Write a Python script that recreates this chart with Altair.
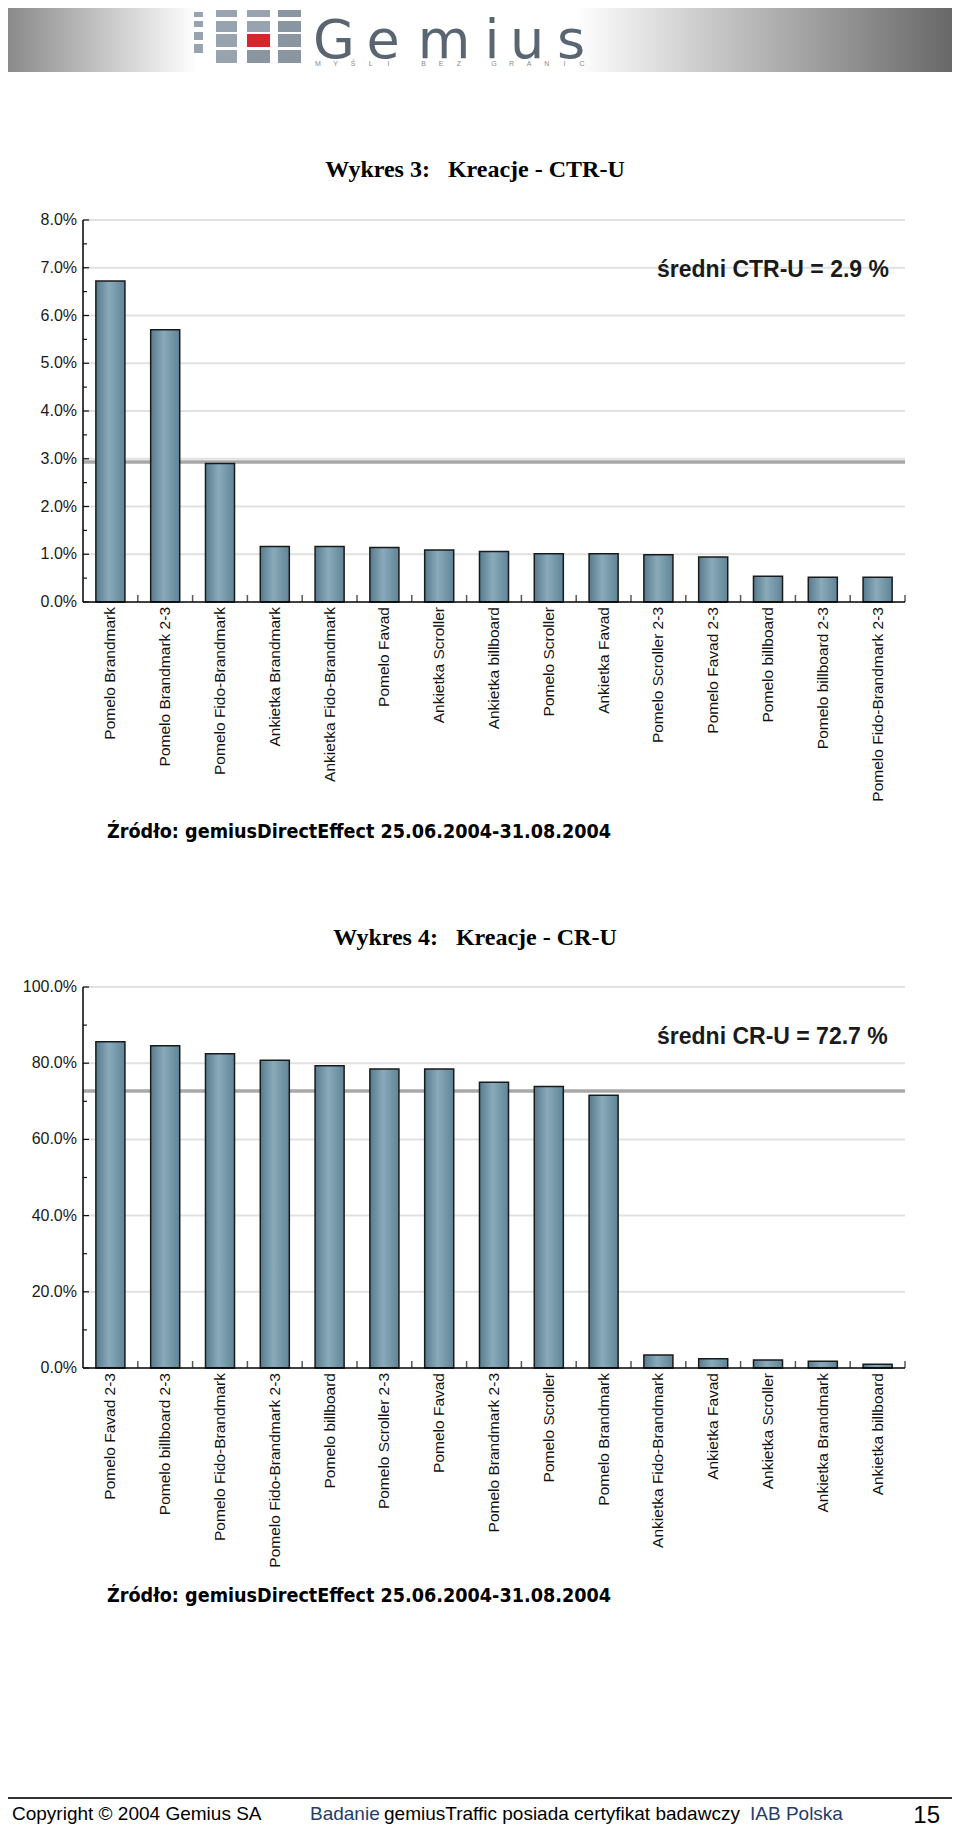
import altair as alt
import pandas as pd

# ---------------- data ----------------
ctr_categories = [
    "Pomelo Brandmark", "Pomelo Brandmark 2-3", "Pomelo Fido-Brandmark",
    "Ankietka Brandmark", "Ankietka Fido-Brandmark", "Pomelo Favad",
    "Ankietka Scroller", "Ankietka billboard", "Pomelo Scroller",
    "Ankietka Favad", "Pomelo Scroller 2-3", "Pomelo Favad 2-3",
    "Pomelo billboard", "Pomelo billboard 2-3", "Pomelo Fido-Brandmark 2-3",
]
ctr_values = [6.72, 5.70, 2.90, 1.16, 1.16, 1.14, 1.09, 1.06, 1.01, 1.01, 0.99, 0.94, 0.54, 0.52, 0.52]
ctr_average = 2.93
ctr_axis_values = [0, 1, 2, 3, 4, 5, 6, 7, 8]
ctr_axis_labels = ["0.0%", "1.0%", "2.0%", "3.0%", "4.0%", "5.0%", "6.0%", "7.0%", "8.0%"]
ctr_minor_values = [0.5, 1.5, 2.5, 3.5, 4.5, 5.5, 6.5, 7.5]

cr_categories = [
    "Pomelo Favad 2-3", "Pomelo billboard 2-3", "Pomelo Fido-Brandmark",
    "Pomelo Fido-Brandmark 2-3", "Pomelo billboard", "Pomelo Scroller 2-3",
    "Pomelo Favad", "Pomelo Brandmark 2-3", "Pomelo Scroller", "Pomelo Brandmark",
    "Ankietka Fido-Brandmark", "Ankietka Favad", "Ankietka Scroller",
    "Ankietka Brandmark", "Ankietka billboard",
]
cr_values = [85.6, 84.6, 82.5, 80.8, 79.3, 78.5, 78.5, 75.0, 73.9, 71.6, 3.4, 2.45, 2.1, 1.8, 0.97]
cr_average = 72.7
cr_axis_values = [0, 20, 40, 60, 80, 100]
cr_axis_labels = ["0.0%", "20.0%", "40.0%", "60.0%", "80.0%", "100.0%"]
cr_minor_values = [10, 30, 50, 70, 90]

title_ctr = "Wykres 3:\u00a0\u00a0\u00a0Kreacje - CTR-U"
title_cr = "Wykres 4:\u00a0\u00a0\u00a0Kreacje - CR-U"
note_ctr = "średni CTR-U = 2.9 %"
note_cr = "średni CR-U = 72.7 %"
source_text = "Źródło: gemiusDirectEffect 25.06.2004-31.08.2004"

# ---------------- layout / style ----------------
W, H = 944, 1822
X0, X1 = 75, 897
CTR_TOP, CTR_BASE = 212, 594
CR_TOP, CR_BASE = 979, 1360
SANS = "Liberation Sans, Arial, sans-serif"
SERIF = "Liberation Serif, Times New Roman, serif"
NARROW = "DejaVu Sans Condensed, DejaVu Sans, sans-serif"

BAR_FILL = alt.LinearGradient(
    gradient="linear",
    stops=[
        alt.GradientStop(color="#567b8e", offset=0),
        alt.GradientStop(color="#8aaaba", offset=0.45),
        alt.GradientStop(color="#5f8597", offset=1),
    ],
    x1=0, x2=1, y1=0, y2=0,
)
BANNER_FILL = alt.LinearGradient(
    gradient="linear",
    stops=[
        alt.GradientStop(color="#8a8a8a", offset=0),
        alt.GradientStop(color="#ffffff", offset=0.2),
        alt.GradientStop(color="#ffffff", offset=0.6),
        alt.GradientStop(color="#686868", offset=1),
    ],
    x1=0, x2=1, y1=0, y2=0,
)

one = pd.DataFrame({"a": [0]})


def text_item(txt, x, y, size, font=SANS, weight="normal", align="left", color="#000"):
    return alt.Chart(one).mark_text(
        text=txt, font=font, fontSize=size, fontWeight=weight, align=align,
        baseline="alphabetic", color=color,
    ).encode(x=alt.value(x), y=alt.value(y))


def panel(cats, vals, avg, axis_vals, axis_labels, minor_vals, top, base):
    ysc = alt.Scale(domain=[axis_vals[0], axis_vals[-1]], range=[base, top], nice=False)
    xsc = alt.Scale(domain=cats, range=[X0, X1], paddingInner=0.47, paddingOuter=0.235)
    df = pd.DataFrame({"cat": cats, "val": vals})
    ax = pd.DataFrame({"v": axis_vals, "lab": axis_labels})
    mn = pd.DataFrame({"v": minor_vals})
    ext = pd.DataFrame({"lo": [axis_vals[0]], "hi": [axis_vals[-1]]})

    grid = alt.Chart(ax[ax.v > axis_vals[0]]).mark_rule(color="#e1e1e1", strokeWidth=2).encode(
        y=alt.Y("v:Q", scale=ysc, axis=None), x=alt.value(X0), x2=alt.value(X1))
    avg_line = alt.Chart(pd.DataFrame({"v": [avg]})).mark_rule(color="#a8a8a8", strokeWidth=3.5).encode(
        y=alt.Y("v:Q", scale=ysc, axis=None), x=alt.value(X0), x2=alt.value(X1))
    bars = alt.Chart(df).mark_bar(color=BAR_FILL, stroke="#1a1a1a", strokeWidth=1.5).encode(
        x=alt.X("cat:N", scale=xsc, axis=None, sort=None),
        y=alt.Y("val:Q", scale=ysc, axis=None))
    xline = alt.Chart(ext).mark_rule(color="#000", strokeWidth=1.5).encode(
        y=alt.Y("lo:Q", scale=ysc, axis=None), x=alt.value(X0), x2=alt.value(X1))
    yline = alt.Chart(ext).mark_rule(color="#000", strokeWidth=1.5).encode(
        y=alt.Y("hi:Q", scale=ysc, axis=None), y2="lo:Q", x=alt.value(X0))
    major = alt.Chart(ax).mark_rule(color="#111", strokeWidth=1.2).encode(
        y=alt.Y("v:Q", scale=ysc, axis=None), x=alt.value(X0), x2=alt.value(X0 + 6))
    minor = alt.Chart(mn).mark_rule(color="#111", strokeWidth=1.2).encode(
        y=alt.Y("v:Q", scale=ysc, axis=None), x=alt.value(X0), x2=alt.value(X0 + 4))
    ylab = alt.Chart(ax).mark_text(align="right", baseline="middle", font=SANS, fontSize=16,
                                   color="#1a1a1a").encode(
        y=alt.Y("v:Q", scale=ysc, axis=None), x=alt.value(X0 - 6), text="lab:N")
    xlab = alt.Chart(df).mark_text(angle=270, align="right", baseline="middle", font=SANS,
                                   fontSize=15.5, color="#111").encode(
        x=alt.X("cat:N", scale=xsc, axis=None, sort=None), y=alt.value(base + 5), text="cat:N")
    layer = alt.layer(grid, avg_line, bars, xline, yline, major, minor, ylab, xlab)

    bt = pd.DataFrame({"b": list(range(1, len(cats) + 1)), "lo": [axis_vals[0]] * len(cats)})
    bticks = alt.Chart(bt).mark_tick(orient="vertical", size=7, thickness=1.5, color="#111",
                                     yOffset=-3.5).encode(
        x=alt.X("b:Q", scale=alt.Scale(domain=[0, len(cats)], range=[X0, X1]), axis=None),
        y=alt.Y("lo:Q", scale=ysc, axis=None))
    return layer, bticks


# ---------------- header (decoration) ----------------
banner = alt.Chart(one).mark_rect(color=BANNER_FILL).encode(
    x=alt.value(0), x2=alt.value(W), y=alt.value(0), y2=alt.value(64))

logo_sq = pd.DataFrame({
    "x0": [186, 186, 186, 186, 208, 208, 208, 208, 239, 239, 239, 239, 270, 270, 270, 270],
    "x1": [195, 195, 195, 195, 229, 229, 229, 229, 262, 262, 262, 262, 293, 293, 293, 293],
    "y0": [4, 13, 24, 36, 2, 13, 26, 42, 2, 13, 26, 42, 2, 13, 26, 42],
    "y1": [9, 19, 32, 45, 9, 24, 39, 55, 9, 24, 39, 55, 9, 24, 39, 55],
    "c": ["#98a3b0"] * 10 + ["#d7262b"] + ["#8a95a2"] * 5,
})
logo = alt.Chart(logo_sq).mark_rect().encode(
    x=alt.X("x0:Q", scale=None, axis=None), x2="x1:Q",
    y=alt.Y("y0:Q", scale=None, axis=None), y2="y1:Q",
    color=alt.Color("c:N", scale=None))

gem = pd.DataFrame({"ch": list("Gemius"), "cx": [326, 375, 436, 484, 519, 563]})
gemius = alt.Chart(gem).mark_text(font="DejaVu Sans, sans-serif", fontSize=54, color="#5a6572",
                                  align="center", baseline="alphabetic").encode(
    x=alt.X("cx:Q", scale=None, axis=None), y=alt.value(50), text="ch:N")
tag = pd.DataFrame({"ch": list("MYŚLI BEZ GRANIC"), "i": list(range(16))})
tagline = alt.Chart(tag).mark_text(font=SANS, fontSize=7, color="#8a8a8a", align="center",
                                   baseline="middle").encode(
    x=alt.X("i:Q", scale=alt.Scale(domain=[0, 15], range=[310, 574]), axis=None),
    y=alt.value(56), text="ch:N")

# ---------------- panels ----------------
p1, t1 = panel(ctr_categories, ctr_values, ctr_average, ctr_axis_values, ctr_axis_labels,
               ctr_minor_values, CTR_TOP, CTR_BASE)
p2, t2 = panel(cr_categories, cr_values, cr_average, cr_axis_values, cr_axis_labels,
               cr_minor_values, CR_TOP, CR_BASE)

texts = [
    text_item(title_ctr, 467, 169, 24, font=SERIF, weight="bold", align="center"),
    text_item(note_ctr, 649, 269, 23, weight="bold", color="#1a1a1a"),
    text_item(source_text, 99, 829.5, 19.6, font=NARROW, weight="bold"),
    text_item(title_cr, 467, 937, 24, font=SERIF, weight="bold", align="center"),
    text_item(note_cr, 649, 1036, 23, weight="bold", color="#1a1a1a"),
    text_item(source_text, 99, 1593.5, 19.6, font=NARROW, weight="bold"),
]

footer_rule = alt.Chart(one).mark_rule(color="#333", strokeWidth=2).encode(
    x=alt.value(0), x2=alt.value(W), y=alt.value(1790))
footer = [
    footer_rule,
    text_item("Copyright \u00a9 2004 Gemius SA", 4, 1812, 19),
    text_item("Badanie", 302, 1812, 19, color="#1f3d6b"),
    text_item("gemiusTraffic posiada certyfikat badawczy", 376, 1812, 19),
    text_item("IAB Polska", 742, 1812, 19, color="#1f3d6b"),
    text_item("15", 932, 1815, 24, align="right"),
]

chart = alt.layer(
    banner, logo, gemius, tagline,
    p1, t1, p2, t2, *texts, *footer,
).resolve_scale(x="independent", y="independent", color="independent").properties(
    width=W, height=H, autosize=alt.AutoSizeParams(type="none"), padding=0, background="white",
).configure_view(stroke=None)

chart.save("out.html", embed_options={"renderer": "svg", "actions": False})
